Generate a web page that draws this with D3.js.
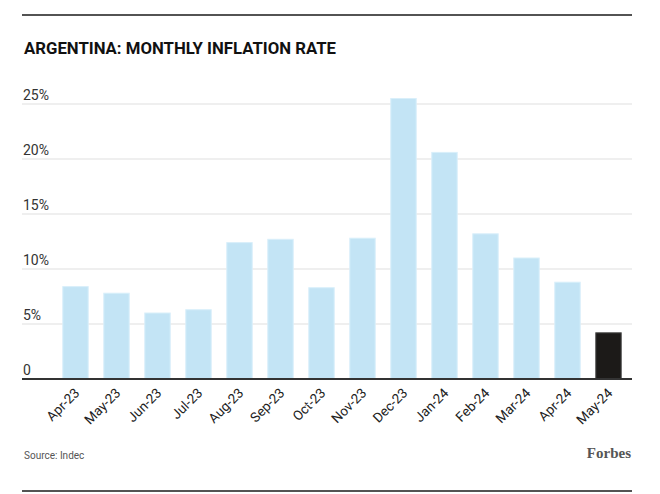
<!DOCTYPE html>
<html>
<head>
<meta charset="utf-8">
<script src="https://cdn.jsdelivr.net/npm/d3@7"></script>
<style>
  html, body { margin: 0; padding: 0; background: #fff; }
  svg { display: block; }
</style>
</head>
<body>
<svg id="chart" width="660" height="494"></svg>
<script>
const categories = ["Apr-23","May-23","Jun-23","Jul-23","Aug-23","Sep-23","Oct-23","Nov-23","Dec-23","Jan-24","Feb-24","Mar-24","Apr-24","May-24"];
const inflation = [8.4, 7.8, 6.0, 6.3, 12.4, 12.7, 8.3, 12.8, 25.5, 20.6, 13.2, 11.0, 8.8, 4.2];
const yTicks = [0, 5, 10, 15, 20, 25];
const yTickLabels = ["0", "5%", "10%", "15%", "20%", "25%"];
const title = "ARGENTINA: MONTHLY INFLATION RATE";
const source = "Source: Indec";
const brand = "Forbes";

const svg = d3.select("#chart");
const left = 22, right = 632;

// top & bottom rules
svg.append("line").attr("x1", left).attr("x2", right).attr("y1", 15).attr("y2", 15)
  .attr("stroke", "#1a1a1a").attr("stroke-width", 1.5);
svg.append("line").attr("x1", left).attr("x2", right).attr("y1", 491).attr("y2", 491)
  .attr("stroke", "#1a1a1a").attr("stroke-width", 1.5);

svg.append("text").attr("x", 24).attr("y", 54)
  .attr("font-family", "Roboto, Inter, sans-serif").attr("font-weight", 700)
  .attr("font-size", 17).attr("fill", "#111").attr("textLength", 312).attr("lengthAdjust", "spacingAndGlyphs")
  .text(title);

const x = d3.scaleBand().domain(categories).range([55, 629]).paddingInner(0.38).paddingOuter(0.19);
const y = d3.scaleLinear().domain([0, 25]).range([379, 104]);

// gridlines
const grid = svg.append("g");
grid.selectAll("line").data(yTicks.filter(d => d > 0)).join("line")
  .attr("x1", left).attr("x2", right)
  .attr("y1", d => y(d)).attr("y2", d => y(d))
  .attr("stroke", "#efefef").attr("stroke-width", 2);

grid.selectAll("text").data(yTicks).join("text")
  .attr("x", 23).attr("y", d => y(d) - 4)
  .attr("font-family", "Roboto, sans-serif").attr("font-size", 14)
  .attr("fill", "#333").text((d, i) => yTickLabels[i]);

// bars
svg.append("g").selectAll("rect").data(inflation).join("rect")
  .attr("x", (d, i) => x(categories[i]))
  .attr("width", x.bandwidth())
  .attr("y", d => y(d))
  .attr("height", d => y(0) - y(d))
  .attr("fill", (d, i) => i === categories.length - 1 ? "#1c1a18" : "#c3e4f5")
  .attr("stroke", (d, i) => i === categories.length - 1 ? "#4a4a4a" : "#d9effa")
  .attr("stroke-width", 1);

// baseline
svg.append("line").attr("x1", left).attr("x2", right).attr("y1", y(0)).attr("y2", y(0))
  .attr("stroke", "#333").attr("stroke-width", 2);

// x labels
svg.append("g").selectAll("text").data(categories).join("text")
  .attr("transform", d => `translate(${x(d) + x.bandwidth() / 2 - 2},${y(0) + 8}) rotate(-45)`)
  .attr("text-anchor", "end").attr("dy", "0.71em")
  .attr("font-family", "Roboto, sans-serif").attr("font-size", 13.5)
  .attr("fill", "#222").text(d => d);

// footer
svg.append("text").attr("x", 24).attr("y", 459)
  .attr("font-family", "Roboto, sans-serif").attr("font-size", 10)
  .attr("fill", "#555").text(source);
svg.append("text").attr("x", 631).attr("y", 458).attr("text-anchor", "end")
  .attr("font-family", "'Liberation Serif', 'DejaVu Serif', serif").attr("font-weight", 700)
  .attr("font-size", 15).attr("fill", "#555").text(brand);
</script>
</body>
</html>
